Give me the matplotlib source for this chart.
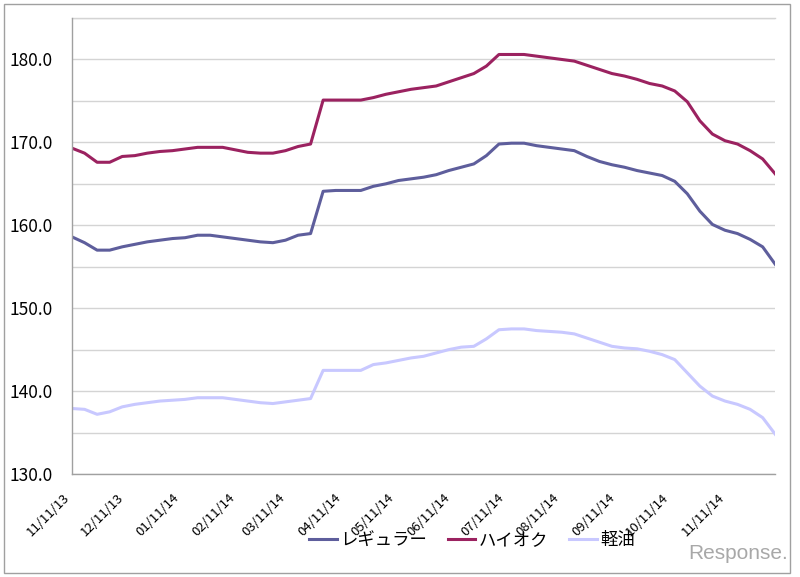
import numpy as np
import pandas as pd
import matplotlib
matplotlib.use('Agg')
import matplotlib.pyplot as plt
import matplotlib.dates as mdates
from matplotlib.transforms import ScaledTranslation
from matplotlib.patches import Rectangle

plt.rcParams['font.family'] = ['Noto Sans CJK JP', 'DejaVu Sans']

# weekly survey dates (Mondays)
dates = pd.date_range('2013-11-11', periods=57, freq='7D')

regular = [158.6, 157.9, 157.0, 157.0, 157.4, 157.7, 158.0, 158.2, 158.4, 158.5,
           158.8, 158.8, 158.6, 158.4, 158.2, 158.0, 157.9, 158.2, 158.8, 159.0,
           164.1, 164.2, 164.2, 164.2, 164.7, 165.0, 165.4, 165.6, 165.8, 166.1,
           166.6, 167.0, 167.4, 168.4, 169.8, 169.9, 169.9, 169.6, 169.4, 169.2,
           169.0, 168.3, 167.7, 167.3, 167.0, 166.6, 166.3, 166.0, 165.3, 163.8,
           161.7, 160.1, 159.4, 159.0, 158.3, 157.4, 155.3]

highoctane = [169.3, 168.7, 167.6, 167.6, 168.3, 168.4, 168.7, 168.9, 169.0, 169.2,
              169.4, 169.4, 169.4, 169.1, 168.8, 168.7, 168.7, 169.0, 169.5, 169.8,
              175.1, 175.1, 175.1, 175.1, 175.4, 175.8, 176.1, 176.4, 176.6, 176.8,
              177.3, 177.8, 178.3, 179.2, 180.6, 180.6, 180.6, 180.4, 180.2, 180.0,
              179.8, 179.3, 178.8, 178.3, 178.0, 177.6, 177.1, 176.8, 176.2, 174.9,
              172.6, 171.0, 170.2, 169.8, 169.0, 168.0, 166.2]

diesel = [137.9, 137.8, 137.2, 137.5, 138.1, 138.4, 138.6, 138.8, 138.9, 139.0,
          139.2, 139.2, 139.2, 139.0, 138.8, 138.6, 138.5, 138.7, 138.9, 139.1,
          142.5, 142.5, 142.5, 142.5, 143.2, 143.4, 143.7, 144.0, 144.2, 144.6,
          145.0, 145.3, 145.4, 146.3, 147.4, 147.5, 147.5, 147.3, 147.2, 147.1,
          146.9, 146.4, 145.9, 145.4, 145.2, 145.1, 144.8, 144.4, 143.8, 142.2,
          140.6, 139.4, 138.8, 138.4, 137.8, 136.8, 134.8]

series_names = ['レギュラー', 'ハイオク', '軽油']
colors = ['#5E5E9C', '#9B2260', '#C8C8FF']

fig = plt.figure(figsize=(8, 5.77), dpi=100)
ax = fig.add_axes([0.09, 0.1785, 0.879, 0.7903])

for vals, name, c in zip([regular, highoctane, diesel], series_names, colors):
    ax.plot(dates, vals, color=c, lw=2.2, label=name)

ax.set_xlim(dates[0], dates[-1])
ax.set_ylim(130, 185)
ax.set_yticks(np.arange(130, 186, 5), minor=True)
ax.set_yticks(np.arange(130, 181, 10))
ax.yaxis.set_major_formatter(matplotlib.ticker.FormatStrFormatter('%.1f'))
ax.grid(True, axis='y', which='both', color='#D4D4D4', lw=1)
ax.axhline(185, color='#D4D4D4', lw=1, clip_on=False, zorder=0)
ax.set_axisbelow(True)

ax.xaxis.set_major_locator(mdates.MonthLocator(bymonthday=11))
ax.xaxis.set_major_formatter(mdates.DateFormatter('%m/%d/%y'))
ax.tick_params(axis='x', length=0, pad=12, labelsize=9.5)
ax.tick_params(axis='y', which='both', length=0, pad=14, labelsize=12.5)
for lab in ax.get_xticklabels():
    lab.set_rotation(45)
    lab.set_ha('right')
    lab.set_va('top')
    lab.set_rotation_mode('anchor')
    lab.set_transform(lab.get_transform() + ScaledTranslation(-9 / 100, 0, fig.dpi_scale_trans))

for s in ['top', 'right']:
    ax.spines[s].set_visible(False)
for s in ['left', 'bottom']:
    ax.spines[s].set_color('#A0A0A0')
    ax.spines[s].set_linewidth(1)

fig.legend(loc='center', bbox_to_anchor=(0.59, 0.064), ncol=3, frameon=False,
           fontsize=12.5, handlelength=1.6, handletextpad=0.2, columnspacing=1.2)

fig.text(0.985, 0.04, 'Response.', color='#A8A8A8', fontsize=15, ha='right',
         va='center', family=['Liberation Sans', 'DejaVu Sans'])

fig.patches.append(Rectangle((4 / 800, 4 / 577), 786 / 800, 569 / 577,
                             transform=fig.transFigure, fill=False,
                             edgecolor='#A0A0A0', lw=1))

fig.savefig('out.png', dpi=100)
